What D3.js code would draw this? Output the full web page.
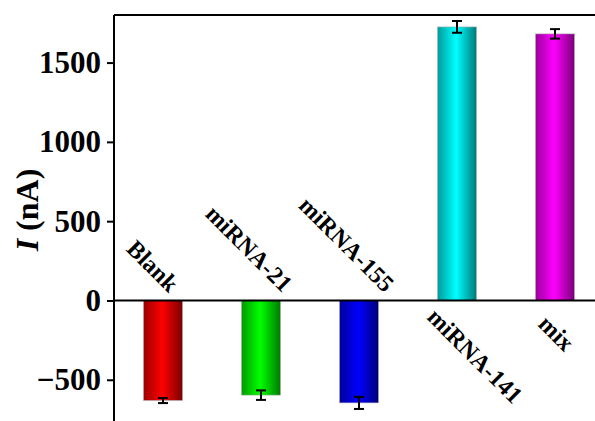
<!DOCTYPE html>
<html><head><meta charset="utf-8">
<script src="https://cdn.jsdelivr.net/npm/d3@7"></script>
<style>html,body{margin:0;padding:0;background:#fff;}svg{display:block;}</style>
</head><body>
<svg id="c" width="595" height="421"></svg>
<script>
const categories = ["Blank", "miRNA-21", "miRNA-155", "miRNA-141", "mix"];
const values = [-631, -597, -646, 1725, 1681];
const errors = [16, 30, 38, 37, 30];
const brightColors = ["#ff0000", "#00ff00", "#0000ff", "#00ffff", "#ff00ff"];
const leftColors = ["#9a0000", "#009a00", "#00009a", "#009a9a", "#9a009a"];
const rightColors = ["#780000", "#007800", "#000078", "#007878", "#780078"];
const yTicks = [-500, 0, 500, 1000, 1500];

const svg = d3.select("#c");
const W = 595, H = 421;
const leftX = 114, topY = 15;
const FONT = "'Liberation Serif','Times New Roman',serif";

const x = d3.scaleBand().domain(categories).range([leftX, 604]).paddingInner(0.6).paddingOuter(0.3);
const y = d3.scaleLinear().domain([-760, 1800]).range([H, topY]);

const defs = svg.append("defs");
categories.forEach((c, i) => {
  const g = defs.append("linearGradient").attr("id", "g" + i).attr("x1", "0%").attr("x2", "100%").attr("y1", "0%").attr("y2", "0%");
  g.append("stop").attr("offset", "0%").attr("stop-color", leftColors[i]);
  g.append("stop").attr("offset", "48%").attr("stop-color", brightColors[i]);
  g.append("stop").attr("offset", "100%").attr("stop-color", rightColors[i]);
});

// bars
svg.selectAll("rect.bar").data(values).enter().append("rect")
  .attr("class", "bar")
  .attr("x", (d, i) => x(categories[i]))
  .attr("width", x.bandwidth())
  .attr("y", d => Math.min(y(d), y(0)))
  .attr("height", d => Math.abs(y(d) - y(0)))
  .attr("fill", (d, i) => "url(#g" + i + ")")
  .attr("stroke", "#bbb").attr("stroke-width", 0.6);

// error bars
const eb = svg.append("g").attr("stroke", "#000").attr("stroke-width", 2);
values.forEach((v, i) => {
  const cx = x(categories[i]) + x.bandwidth() / 2;
  const y1 = y(v - errors[i]), y2 = y(v + errors[i]);
  eb.append("line").attr("x1", cx).attr("x2", cx).attr("y1", y1).attr("y2", y2);
  eb.append("line").attr("x1", cx - 5).attr("x2", cx + 5).attr("y1", y1).attr("y2", y1);
  eb.append("line").attr("x1", cx - 5).attr("x2", cx + 5).attr("y1", y2).attr("y2", y2);
});

// zero line and top frame
svg.append("line").attr("x1", leftX).attr("x2", W).attr("y1", y(0)).attr("y2", y(0)).attr("stroke", "#000").attr("stroke-width", 2);
svg.append("line").attr("x1", leftX).attr("x2", W).attr("y1", topY).attr("y2", topY).attr("stroke", "#000").attr("stroke-width", 2);

// y axis
const yAxis = d3.axisLeft(y).tickValues(yTicks).tickSize(7).tickPadding(6).tickFormat(d3.format("d"));
const ya = svg.append("g").attr("transform", `translate(${leftX},0)`).call(yAxis);
ya.select(".domain").attr("stroke-width", 2).attr("d", `M0,${topY}V${H}`);
ya.selectAll(".tick line").attr("stroke-width", 2);
ya.selectAll(".tick text").attr("font-family", FONT)
  .attr("font-weight", "bold").attr("font-size", 31).attr("fill", "#000");

// y title
const yt = svg.append("text").attr("transform", "translate(38,210) rotate(-90)")
  .attr("text-anchor", "middle").attr("font-family", FONT)
  .attr("font-weight", "bold").attr("font-size", 32).attr("fill", "#000");
yt.append("tspan").attr("font-style", "italic").text("I");
yt.append("tspan").text(" (nA)");

// category labels (rotated 45°, placed along the zero line)
categories.forEach((c, i) => {
  const cx = x(c) + x.bandwidth() / 2;
  const neg = values[i] < 0;
  const t = svg.append("text")
    .attr("text-anchor", neg ? "end" : "start")
    .attr("font-family", FONT)
    .attr("font-weight", "bold").attr("font-size", 24).attr("fill", "#000")
    .text(c);
  const L = t.node().getComputedTextLength();
  const tx = neg ? cx - 14 + 0.32 * L : cx - 12 - 0.155 * L;
  const ty = neg ? y(0) - 7 : y(0) + 28 - 0.083 * L;
  t.attr("transform", `translate(${tx},${ty}) rotate(45)`);
});
</script>
</body></html>
